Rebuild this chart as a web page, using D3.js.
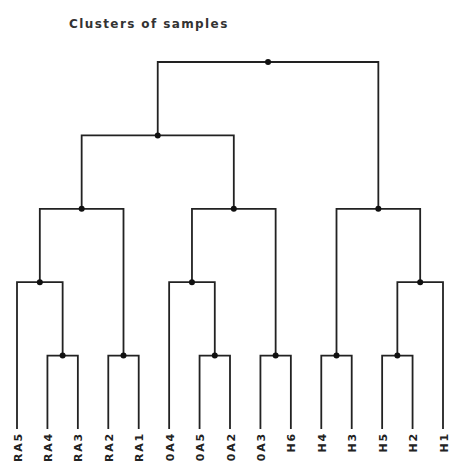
<!DOCTYPE html>
<html>
<head>
<meta charset="utf-8">
<script src="https://cdn.jsdelivr.net/npm/d3@7"></script>
<style>
  body { margin: 0; background: #fff; }
  svg { display: block; }
</style>
</head>
<body>
<div id="vis"></div>
<script>
// leaf order along the bottom
var leafNames = ["RA5", "RA4", "RA3", "RA2", "RA1", "0A4", "0A5", "0A2", "0A3", "H6", "H4", "H3", "H5", "H2", "H1"];

// merges: [left, right, height]; ids are leaf names or earlier merge ids (m0, m1, ...)
var merges = [
  ["RA4", "RA3", 1],   // m0
  ["RA2", "RA1", 1],   // m1
  ["0A5", "0A2", 1],   // m2
  ["0A3", "H6", 1],    // m3
  ["H4", "H3", 1],     // m4
  ["H5", "H2", 1],     // m5
  ["RA5", "m0", 2],    // m6
  ["0A4", "m2", 2],    // m7
  ["m5", "H1", 2],     // m8
  ["m6", "m1", 3],     // m9
  ["m7", "m3", 3],     // m10
  ["m4", "m8", 3],     // m11
  ["m9", "m10", 4],    // m12
  ["m12", "m11", 5]    // m13
];

var title = "Clusters of samples";

var width = 454;
var height = 465;

var svg = d3.select("#vis").append("svg")
  .attr("width", width)
  .attr("height", height);

// build a nested tree from the merge list
var lookup = {};
leafNames.forEach(function (n) { lookup[n] = { name: n, h: 0 }; });
merges.forEach(function (m, i) {
  lookup["m" + i] = { name: "m" + i, h: m[2], children: [lookup[m[0]], lookup[m[1]]] };
});
var root = d3.hierarchy(lookup["m" + (merges.length - 1)]);

var x = d3.scalePoint().domain(leafNames).range([17, 443]);
var y = d3.scaleLinear().domain([0, d3.max(merges, function (m) { return m[2]; })]).range([429, 62]);

// leaves get their column, internal nodes sit midway between their children
root.eachAfter(function (d) {
  if (d.children) {
    d.x = (d.children[0].x + d.children[1].x) / 2;
  } else {
    d.x = x(d.data.name);
  }
  d.y = y(d.data.h);
});

svg.append("text")
  .attr("x", 69)
  .attr("y", 28)
  .attr("font-family", "DejaVu Sans, sans-serif")
  .attr("font-weight", "bold")
  .attr("font-size", 12)
  .attr("letter-spacing", 1.4)
  .attr("fill", "#333")
  .text(title);

var g = svg.append("g");

g.selectAll("path.link")
  .data(root.links())
  .enter().append("path")
  .attr("class", "link")
  .attr("fill", "none")
  .attr("stroke", "#222")
  .attr("stroke-width", 1.8)
  .attr("d", function (d) {
    return "M" + d.source.x + "," + d.source.y + "H" + d.target.x + "V" + d.target.y;
  });

g.selectAll("circle.node")
  .data(root.descendants().filter(function (d) { return d.children; }))
  .enter().append("circle")
  .attr("class", "node")
  .attr("cx", function (d) { return d.x; })
  .attr("cy", function (d) { return d.y; })
  .attr("r", 3)
  .attr("fill", "#111");

g.selectAll("text.leaf")
  .data(root.leaves())
  .enter().append("text")
  .attr("class", "leaf")
  .attr("transform", function (d) { return "translate(" + (d.x + 4.5) + "," + (d.y + 3) + ") rotate(-90)"; })
  .attr("text-anchor", "end")
  .attr("font-family", "DejaVu Sans, sans-serif")
  .attr("font-weight", "bold")
  .attr("font-size", 11)
  .attr("letter-spacing", 1.8)
  .attr("fill", "#222")
  .text(function (d) { return d.data.name; });
</script>
</body>
</html>
